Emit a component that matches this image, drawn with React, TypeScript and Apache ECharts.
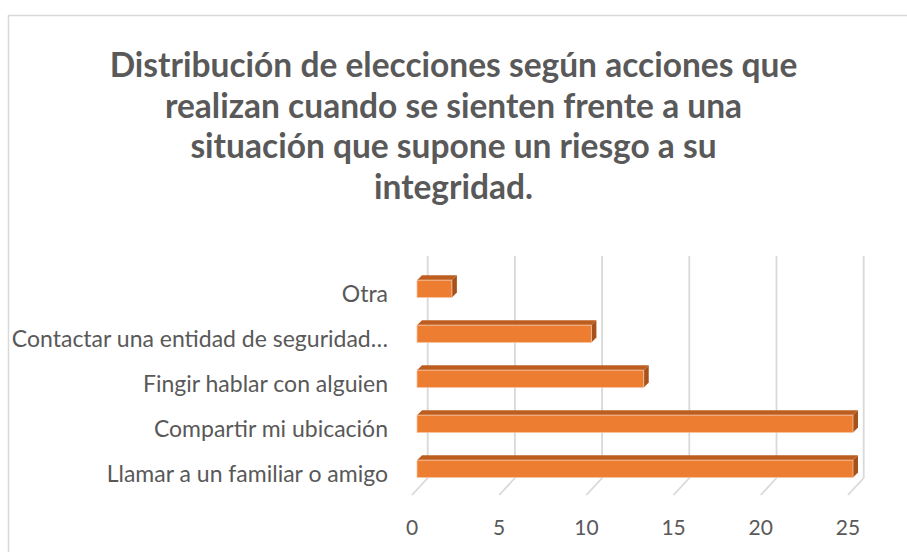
import React, { useEffect, useRef } from "react";
import * as echarts from "echarts";

const titleLines = [
  "Distribución de elecciones según acciones que",
  "realizan cuando se sienten frente a una",
  "situación que supone un riesgo a su",
  "integridad.",
];
const categories = [
  "Otra",
  "Contactar una entidad de seguridad…",
  "Fingir hablar con alguien",
  "Compartir mi ubicación",
  "Llamar a un familiar o amigo",
];
const values = [2, 10, 13, 25, 25];
const xTicks = [0, 5, 10, 15, 20, 25];

const FONT = "Lato, 'Open Sans', sans-serif";
const TEXT = "#595959";
const GRID = "#D9D9D9";

export default function App() {
  const ref = useRef<HTMLDivElement>(null);
  useEffect(() => {
    document.body.style.margin = "0";
    const chart = echarts.init(ref.current!, null, { renderer: "svg" });
    const gridTop = 266.3;
    const gridH = 225;
    const backDx = 15.7;
    const backTop = 256;
    const backBottom = 478;
    const frontBottom = 495;
    chart.setOption({
      animation: false,
      backgroundColor: "#ffffff",
      graphic: [
        {
          type: "rect",
          shape: { x: 8.5, y: 15.5, width: 1000, height: 1000 },
          style: { fill: "none", stroke: GRID, lineWidth: 1.5 },
          silent: true,
        },
        {
          type: "text",
          x: 453.5,
          y: 44,
          silent: true,
          style: {
            text: titleLines.join("\n"),
            align: "center",
            verticalAlign: "top",
            fontFamily: FONT,
            fontWeight: "bold",
            fontSize: 33.5,
            lineHeight: 40.5,
            fill: TEXT,
          },
        },
      ],
      grid: {
        left: 412,
        width: 436,
        top: gridTop,
        height: gridH,
        containLabel: false,
        outerBoundsMode: "none",
      },
      xAxis: {
        type: "value",
        min: 0,
        max: 25,
        interval: 5,
        axisLine: { show: false },
        axisTick: { show: false },
        splitLine: { show: false },
        axisLabel: {
          margin: 25,
          fontFamily: FONT,
          fontSize: 21,
          color: TEXT,
        },
      },
      yAxis: {
        type: "category",
        data: categories,
        inverse: true,
        axisLine: { show: false },
        axisTick: { show: false },
        splitLine: { show: false },
        axisLabel: {
          margin: 24,
          fontFamily: FONT,
          fontSize: 23,
          color: TEXT,
          verticalAlign: "top",
          lineHeight: 8,
        },
      },
      series: [
        {
          type: "custom",
          silent: true,
          data: xTicks.map((t) => [t]),
          encode: { x: 0 },
          renderItem: (params: any, api: any) => {
            const v = api.value(0);
            const x = api.coord([v, 0])[0];
            return {
              type: "polyline",
              shape: {
                points: [
                  [x + backDx, backTop],
                  [x + backDx, backBottom],
                  [x, frontBottom],
                ],
              },
              style: { fill: "none", stroke: GRID, lineWidth: 1.8 },
            };
          },
          z: 1,
        },
        {
          type: "custom",
          silent: true,
          data: values.map((v, i) => [v, i]),
          encode: { x: 0, y: 1 },
          renderItem: (params: any, api: any) => {
            const v = api.value(0);
            const i = api.value(1);
            const p0 = api.coord([0, i]);
            const p1 = api.coord([v, i]);
            const band = api.size([0, 1])[1];
            const h = band * 0.385;
            const off = 5;
            const d = 5;
            const fx0 = p0[0] + off;
            const fx1 = p1[0] + off;
            const ft = p0[1] - h / 2;
            const fb = p0[1] + h / 2;
            return {
              type: "group",
              children: [
                {
                  type: "polygon",
                  shape: {
                    points: [
                      [fx0, ft],
                      [fx1, ft],
                      [fx1 + d, ft - d],
                      [fx0 + d, ft - d],
                    ],
                  },
                  style: { fill: "#BD5E20" },
                },
                {
                  type: "polygon",
                  shape: {
                    points: [
                      [fx1, ft],
                      [fx1 + d, ft - d],
                      [fx1 + d, fb - d],
                      [fx1, fb],
                    ],
                  },
                  style: { fill: "#A7521B" },
                },
                {
                  type: "rect",
                  shape: { x: fx0, y: ft, width: fx1 - fx0, height: h },
                  style: { fill: "#ED7D31", stroke: "#F6C3A0", lineWidth: 0.8 },
                },
              ],
            };
          },
          z: 2,
        },
      ],
    });
    return () => chart.dispose();
  }, []);
  return <div ref={ref} style={{ width: 907, height: 552 }} />;
}
